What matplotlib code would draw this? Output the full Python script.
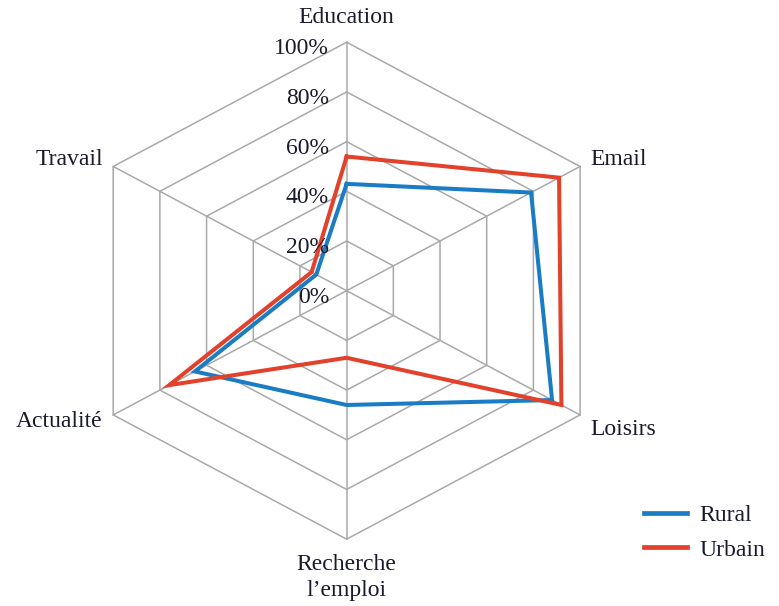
import numpy as np
import matplotlib
matplotlib.use("Agg")
import matplotlib.pyplot as plt
from matplotlib.lines import Line2D

categories = ["Education", "Email", "Loisirs", "Recherche\nl\u2019emploi", "Actualit\u00e9", "Travail"]
rural = [43, 79, 88, 46, 65, 13]
urbain = [54, 91, 92, 27, 76, 15]
ticks = [0, 20, 40, 60, 80, 100]
tick_labels = ["0%", "20%", "40%", "60%", "80%", "100%"]
series_names = ["Rural", "Urbain"]
colors = ["#1b7cc6", "#e2412b"]

plt.rcParams['font.family'] = ['Liberation Serif', 'DejaVu Serif']

fig = plt.figure(figsize=(7.79, 6.06), dpi=100)
ax = fig.add_axes([0, 0, 1, 1])
ax.set_xlim(-128.6, 160.4)
ax.set_ylim(-126.9, 117.0)
ax.axis('off')

n = len(categories)
ang = np.deg2rad(np.arange(n) * 360.0 / n)
sx, sy = np.sin(ang), np.cos(ang)

grid_c = "#a9a9a9"
for t in ticks[1:]:
    xs = np.append(t * sx, t * sx[0])
    ys = np.append(t * sy, t * sy[0])
    ax.plot(xs, ys, color=grid_c, lw=1.1, zorder=1)
for i in range(n):
    ax.plot([0, 100 * sx[i]], [0, 100 * sy[i]], color=grid_c, lw=1.1, zorder=1)

for vals, c in zip([rural, urbain], colors):
    v = np.array(vals, dtype=float)
    xs = np.append(v * sx, v[0] * sx[0])
    ys = np.append(v * sy, v[0] * sy[0])
    ax.plot(xs, ys, color=c, lw=2.9, zorder=3, solid_joinstyle='miter')

txt_c = "#1a1a2e"
for t, lab in zip(ticks, tick_labels):
    ax.text(-6.5, t - 2.6, lab, ha='right', va='center', fontsize=17, color=txt_c, zorder=4)

label_pos = [
    (0, 110, 'center', 'center'),
    (90.5, 53, 'left', 'center'),
    (90.5, -56, 'left', 'center'),
    (0, -115.5, 'center', 'center'),
    (-90.5, -52.5, 'right', 'center'),
    (-90.5, 53, 'right', 'center'),
]
for lab, (x, y, ha, va) in zip(categories, label_pos):
    ax.text(x, y, lab, ha=ha, va=va, fontsize=17, color=txt_c, linespacing=1.35)

handles = [Line2D([0], [0], color=c, lw=3.4) for c in colors]
leg = fig.legend(handles, series_names, loc='lower right', bbox_to_anchor=(1.01, 0.04),
                 frameon=False, fontsize=17, handlelength=1.8, labelspacing=0.55,
                 handletextpad=0.55, labelcolor=txt_c)

fig.savefig("out.png", dpi=100)
